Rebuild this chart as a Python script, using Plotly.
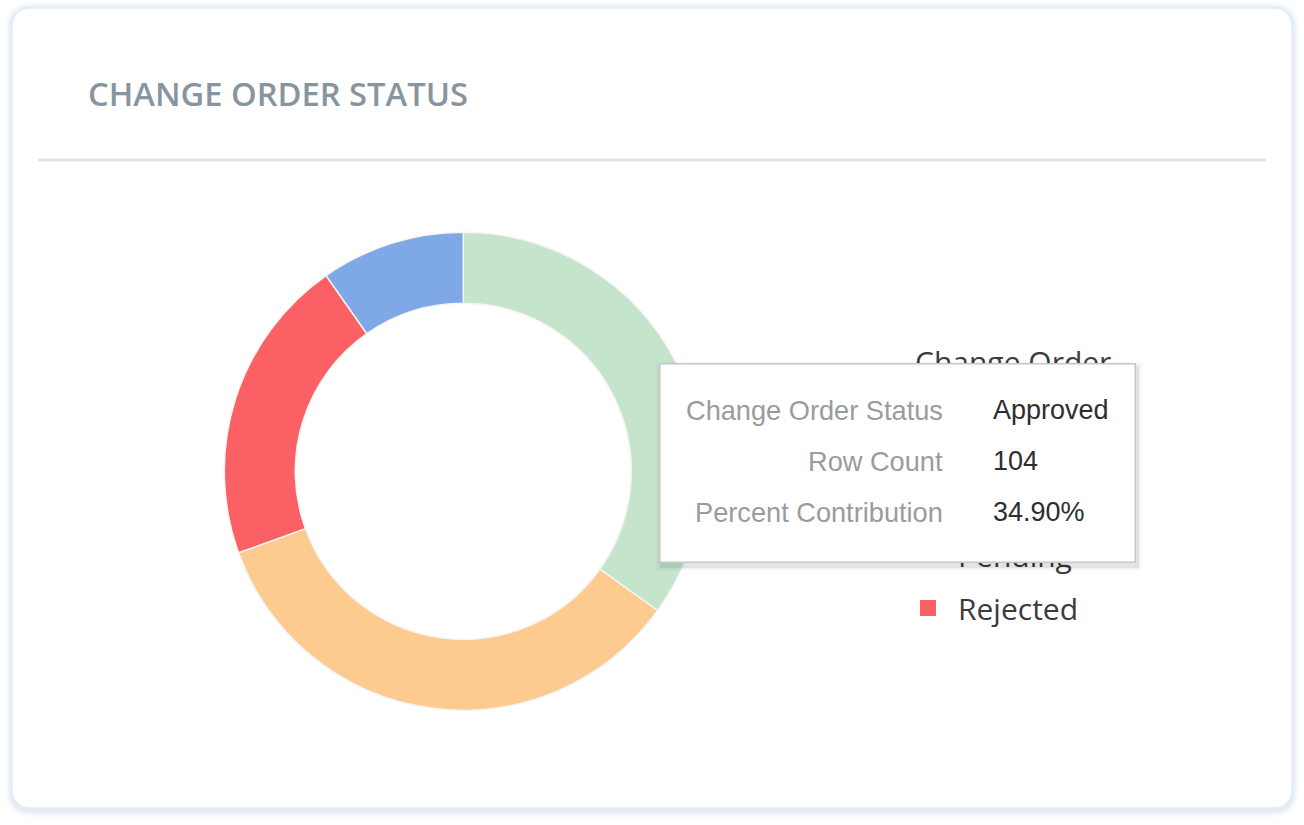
import plotly.graph_objects as go

W, H = 1304, 825

# ---- data ----
categories = ["Approved", "Draft", "Pending", "Rejected"]   # legend order
row_counts = [104, 29, 103, 62]
colors = ["#c4e4cc", "#7ea9e6", "#fdca8f", "#fa6064"]
slice_order = ["Approved", "Pending", "Rejected", "Draft"]   # clockwise from 12 o'clock

title_text = "CHANGE ORDER STATUS"
legend_title = "Change Order<br>Status"
tooltip_labels = ["Change Order Status", "Row Count", "Percent Contribution"]
hovered = "Approved"


def px(x):
    return x / W


def py(y):
    return 1 - y / H


def rrect(x0, y0, x1, y1, r):
    return (f"M{px(x0+r)},{py(y0)} L{px(x1-r)},{py(y0)} "
            f"Q{px(x1)},{py(y0)} {px(x1)},{py(y0+r)} L{px(x1)},{py(y1-r)} "
            f"Q{px(x1)},{py(y1)} {px(x1-r)},{py(y1)} L{px(x0+r)},{py(y1)} "
            f"Q{px(x0)},{py(y1)} {px(x0)},{py(y1-r)} L{px(x0)},{py(y0+r)} "
            f"Q{px(x0)},{py(y0)} {px(x0+r)},{py(y0)} Z")


fig = go.Figure()

# pie
idx = [categories.index(c) for c in slice_order]
cx, cy, R = 463.3, 471.3, 239
fig.add_trace(go.Pie(
    labels=[categories[i] for i in idx],
    values=[row_counts[i] for i in idx],
    marker=dict(colors=[colors[i] for i in idx], line=dict(color="#f4f4f4", width=1.5)),
    hole=0.703, sort=False, direction="clockwise", rotation=0,
    textinfo="none", showlegend=False, hoverinfo="skip",
    domain=dict(x=[px(cx - R), px(cx + R)], y=[py(cy + R), py(cy - R)]),
))

# legend entries (alphabetical, like the source)
for c, col in zip(categories, colors):
    fig.add_trace(go.Scatter(
        x=[None], y=[None], mode="markers", name=c, legendgroup=c,
        marker=dict(symbol="square", size=16, color=col), hoverinfo="skip"))

shapes = []
# card shadow + card
for off, colr in [(7, "rgba(230,237,246,0.3)"), (4, "rgba(225,233,243,0.45)"), (2, "rgba(220,229,240,0.6)")]:
    shapes.append(dict(type="path", xref="paper", yref="paper", layer="below",
                       path=rrect(12 - off, 8 - off + 1, 1292 + off, 808 + off + 2, 20 + off),
                       fillcolor=colr, line=dict(width=0)))
shapes.append(dict(type="path", xref="paper", yref="paper", layer="below",
                   path=rrect(12, 8, 1292, 808, 20), fillcolor="#ffffff",
                   line=dict(color="#e8eef5", width=1.5)))
# separator line under the header
shapes.append(dict(type="line", xref="paper", yref="paper", layer="below",
                   x0=px(38), x1=px(1266), y0=py(160), y1=py(160),
                   line=dict(color="#dde5ee", width=3)))

annotations = []
annotations.append(dict(x=px(86), y=py(93), xref="paper", yref="paper", xanchor="left", yanchor="middle",
                        text=title_text, showarrow=False,
                        font=dict(family="Open Sans", size=32.7, weight=600, color="#8795a1")))

# legend title (drawn beneath the tooltip)
annotations.append(dict(x=px(913), y=py(339), xref="paper", yref="paper", xanchor="left", yanchor="top",
                        text=legend_title, showarrow=False, align="left",
                        font=dict(family="Open Sans", size=30, color="#3b3b3b")))

# tooltip box
bx0, by0, bx1, by1 = 659, 363, 1135, 562
bw, bh = bx1 - bx0, by1 - by0
for off, alpha in [(10, 0.025), (6, 0.035), (3, 0.05)]:
    annotations.append(dict(x=px(bx0 - off / 2 + 2), y=py(by0 - off / 2 + 4), xref="paper", yref="paper",
                            xanchor="left", yanchor="top", text=" ", showarrow=False,
                            width=bw + off, height=bh + off, borderpad=0, borderwidth=0,
                            bgcolor=f"rgba(0,0,0,{alpha})"))
annotations.append(dict(x=px(bx0), y=py(by0), xref="paper", yref="paper", xanchor="left", yanchor="top",
                        text=" ", showarrow=False, width=bw - 2, height=bh - 2, borderpad=0,
                        bgcolor="#ffffff", bordercolor="#c6c6c6", borderwidth=1.5))

hi = categories.index(hovered)
total = sum(row_counts)
values_txt = [hovered, f"{row_counts[hi]}", f"{row_counts[hi] / total * 100:.2f}%"]
row_y = [410, 461, 512]
for lab, val, yy in zip(tooltip_labels, values_txt, row_y):
    annotations.append(dict(x=px(945), y=py(yy), xref="paper", yref="paper", xanchor="right", yanchor="middle",
                            text=lab, showarrow=False,
                            font=dict(family="Liberation Sans", size=27.2, color="#9b9b9b")))
    annotations.append(dict(x=px(991), y=py(yy), xref="paper", yref="paper", xanchor="left", yanchor="middle",
                            text=val, showarrow=False,
                            font=dict(family="Liberation Sans", size=27, color="#2e2e2e")))

fig.update_layout(
    width=W, height=H, margin=dict(l=0, r=0, t=0, b=0),
    paper_bgcolor="#ffffff", plot_bgcolor="rgba(0,0,0,0)",
    xaxis=dict(visible=False), yaxis=dict(visible=False),
    showlegend=True,
    legend=dict(x=px(898), xanchor="left", y=py(423), yanchor="top",
                font=dict(family="Open Sans", size=30, color="#3b3b3b"),
                itemwidth=50, tracegroupgap=11, traceorder="grouped",
                bgcolor="rgba(0,0,0,0)"),
    shapes=shapes, annotations=annotations,
)

fig.write_html("out.html", config={"displayModeBar": False},
               post_script="document.body.style.margin='0';document.body.style.overflow='hidden';")
